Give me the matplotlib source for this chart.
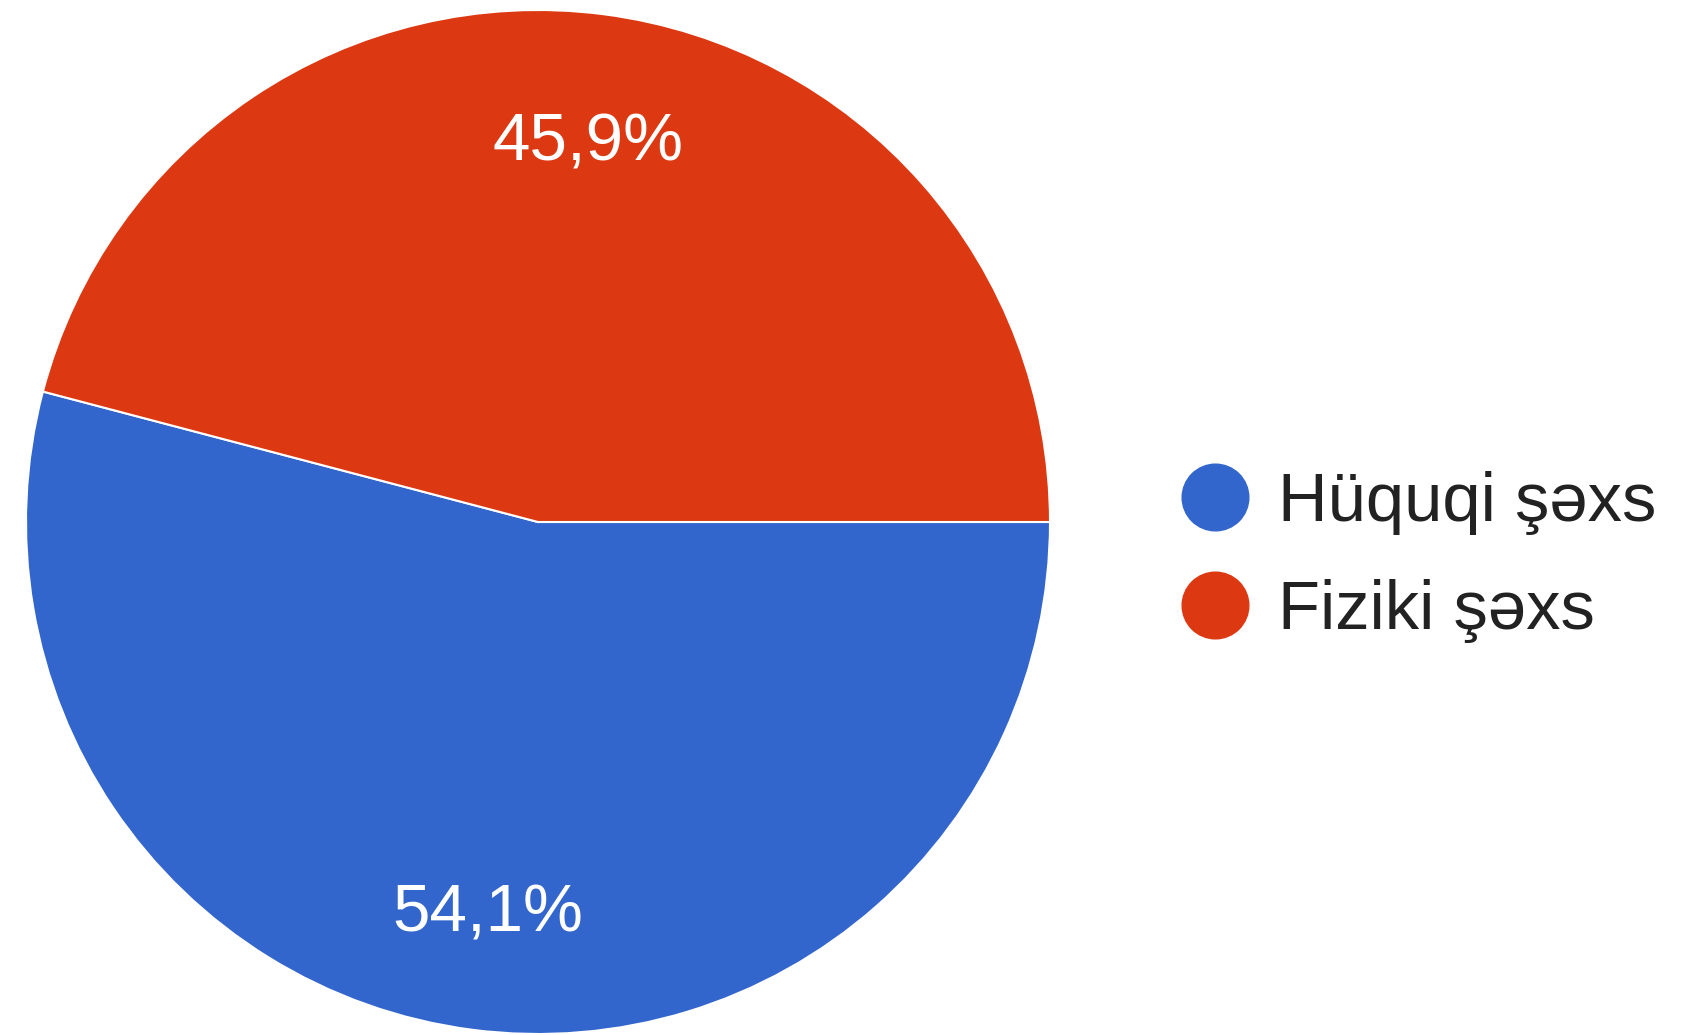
import matplotlib
matplotlib.use('Agg')
import matplotlib.pyplot as plt

plt.rcParams['font.family'] = ['Liberation Sans', 'DejaVu Sans']

# data
categories = ['Hüquqi şəxs', 'Fiziki şəxs']
shares = [54.1, 45.9]
colors = ['#3366CC', '#DC3912']

W, H = 1687, 1035
fig = plt.figure(figsize=(W / 100, H / 100), dpi=100)
ax = fig.add_axes([0, 0, 1, 1])

wedges, texts, autotexts = ax.pie(
    shares,
    colors=colors,
    startangle=0,
    counterclock=False,
    center=(538, H - 522),
    radius=512,
    autopct=lambda p: f'{p:.1f}%'.replace('.', ','),
    pctdistance=0.76,
    wedgeprops=dict(edgecolor='white', linewidth=1.5),
    textprops=dict(color='white', fontsize=48.5),
    frame=True,
)
for t in autotexts:
    t.set_va('center_baseline')
ax.set_xlim(0, W)
ax.set_ylim(0, H)
ax.set_aspect('equal')
ax.axis('off')

# legend on the right
for i, (lab, col) in enumerate(zip(categories, colors)):
    y_marker = H - 497 - i * 108
    y_text = H - 521 - i * 108
    ax.plot(1215, y_marker, marker='o', markersize=48, color=col, linestyle='none')
    ax.text(1278, y_text, lab, fontsize=49.5, color='#222222', va='baseline', ha='left')

fig.savefig('out.png', dpi=100)
